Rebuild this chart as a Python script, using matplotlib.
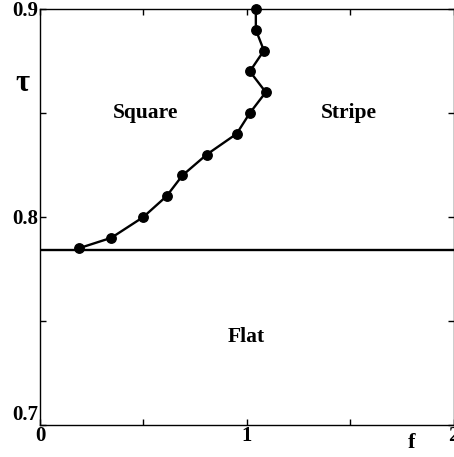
import matplotlib
matplotlib.use("Agg")
import matplotlib.pyplot as plt

# Data
f_vals = [1.044, 1.044, 1.083, 1.015, 1.092, 1.015, 0.951, 0.806, 0.689, 0.612, 0.500, 0.345, 0.189]
tau_vals = [0.900, 0.890, 0.880, 0.870, 0.860, 0.850, 0.840, 0.830, 0.820, 0.810, 0.800, 0.790, 0.785]
flat_tau = 0.784

x_ticks = [0, 0.5, 1, 1.5, 2]
x_ticklabels = ["0", "", "1", "", "2"]
y_ticks = [0.7, 0.75, 0.8, 0.85, 0.9]
y_ticklabels = ["0.7", "", "0.8", "", "0.9"]

region_labels = ["Square", "Stripe", "Flat"]
region_pos = [(0.51, 0.85), (1.495, 0.85), (1.0, 0.7423)]

plt.rcParams['font.family'] = ['Liberation Serif', 'DejaVu Serif']

fig = plt.figure(figsize=(4.54, 4.57), dpi=100)
W, H = 454, 457
ax = fig.add_axes([40 / W, (H - 425) / H, (453.5 - 40) / W, (425 - 9) / H])

ax.plot(f_vals, tau_vals, color='black', lw=1.7, marker='o', ms=6.8, clip_on=False, zorder=3)
ax.axhline(flat_tau, color='black', lw=1.7)

ax.set_xlim(0, 2)
ax.set_ylim(0.7, 0.9)
ax.set_xticks(x_ticks)
ax.set_xticklabels(x_ticklabels, fontsize=15, fontweight='bold')
ax.set_yticks(y_ticks)
ax.set_yticklabels(y_ticklabels, fontsize=15, fontweight='bold')
ax.tick_params(direction='in', length=4.5, width=1, top=True, right=True)
ax.tick_params(axis='x', pad=1.0)
ax.tick_params(axis='y', pad=1.5)
ax.get_yticklabels()[0].set_va('bottom')
for s in ax.spines.values():
    s.set_linewidth(1.0)

for lab, (x, y) in zip(region_labels, region_pos):
    ax.text(x, y, lab, ha='center', va='center', fontsize=15.5, fontweight='bold')

ax.text(1.796, 0.6913, "f", ha='center', va='center', fontsize=16, fontweight='bold', clip_on=False)
ax.text(-0.087, 0.864, "τ", ha='center', va='center', fontsize=22, fontweight='bold', clip_on=False)

fig.savefig("out.png", dpi=100)
